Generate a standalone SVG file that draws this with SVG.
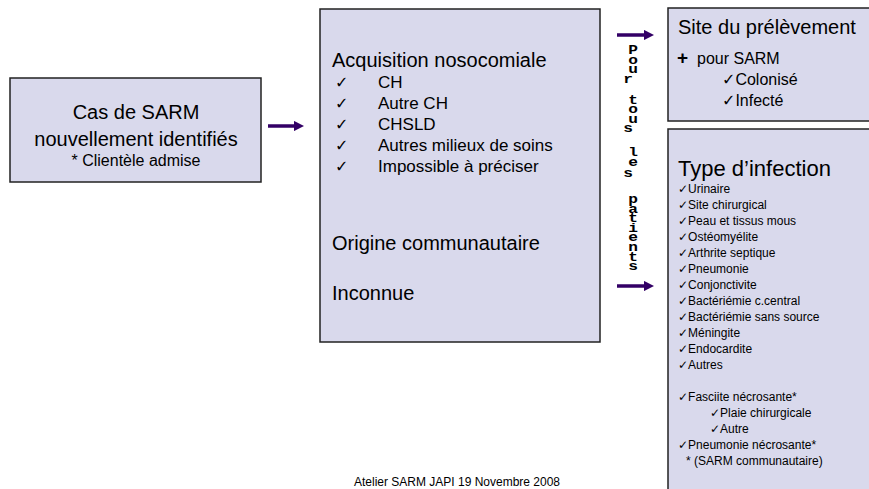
<svg xmlns="http://www.w3.org/2000/svg" width="869" height="489" viewBox="0 0 869 489">
  <style>
    .box { fill: #d9d9ec; stroke: #222; stroke-width: 1.5; }
    .t { font-family: "Liberation Sans", "DejaVu Sans", sans-serif; fill: #000; }
    .vert { font-family: "Liberation Mono", "DejaVu Sans Mono", monospace; font-weight: bold; font-size: 13.5px; text-anchor: middle; }
    .conn { stroke: #330066; stroke-width: 3.5; fill: none; marker-end: url(#head); }
  </style>
  <defs>
    <marker id="head" viewBox="0 0 10 10" refX="6" refY="5" markerWidth="3" markerHeight="3" orient="auto">
      <path d="M0,0 L10,5 L0,10 z" fill="#330066"/>
    </marker>
  </defs>
  <rect width="869" height="489" fill="#fff"/>

  <!-- Newly identified cases -->
  <g id="cas">
    <rect class="box" x="10" y="78" width="251" height="104"/>
    <text class="t" x="136" y="119" font-size="20" text-anchor="middle">Cas de SARM</text>
    <text class="t" x="136" y="146" font-size="20" text-anchor="middle">nouvellement identifiés</text>
    <text class="t" x="136" y="166" font-size="16" text-anchor="middle">* Clientèle admise</text>
  </g>

  <!-- Acquisition origin -->
  <g id="acquisition">
    <rect class="box" x="320" y="9" width="280" height="333"/>
    <text class="t" x="332" y="67" font-size="20">Acquisition nosocomiale</text>
    <g font-size="16">
      <text class="t" x="335" y="88">✓</text><text class="t" x="378" y="88" font-size="17">CH</text>
      <text class="t" x="335" y="109">✓</text><text class="t" x="378" y="109" font-size="17">Autre CH</text>
      <text class="t" x="335" y="130">✓</text><text class="t" x="378" y="130" font-size="17">CHSLD</text>
      <text class="t" x="335" y="151">✓</text><text class="t" x="378" y="151" font-size="17">Autres milieux de soins</text>
      <text class="t" x="335" y="172">✓</text><text class="t" x="378" y="172" font-size="17">Impossible à préciser</text>
    </g>
    <text class="t" x="332" y="250" font-size="20">Origine communautaire</text>
    <text class="t" x="332" y="300" font-size="20">Inconnue</text>
  </g>

  <!-- Sampling site -->
  <g id="site">
    <rect class="box" x="668" y="8" width="210" height="113"/>
    <text class="t" x="678" y="34" font-size="20">Site du prélèvement</text>
    <text class="t" x="677" y="64" font-size="19" font-weight="bold">+</text>
    <text class="t" x="697" y="64" font-size="16">pour SARM</text>
    <text class="t" x="722" y="85" font-size="16">✓Colonisé</text>
    <text class="t" x="722" y="106" font-size="16">✓Infecté</text>
  </g>

  <!-- Infection type -->
  <g id="infection">
    <rect class="box" x="668" y="129" width="210" height="370"/>
    <text class="t" x="678" y="176" font-size="22">Type d’infection</text>
    <g font-size="12">
      <text class="t" x="678" y="193">✓Urinaire</text>
      <text class="t" x="678" y="209">✓Site chirurgical</text>
      <text class="t" x="678" y="225">✓Peau et tissus mous</text>
      <text class="t" x="678" y="241">✓Ostéomyélite</text>
      <text class="t" x="678" y="257">✓Arthrite septique</text>
      <text class="t" x="678" y="273">✓Pneumonie</text>
      <text class="t" x="678" y="289">✓Conjonctivite</text>
      <text class="t" x="678" y="305">✓Bactériémie c.central</text>
      <text class="t" x="678" y="321">✓Bactériémie sans source</text>
      <text class="t" x="678" y="337">✓Méningite</text>
      <text class="t" x="678" y="353">✓Endocardite</text>
      <text class="t" x="678" y="369">✓Autres</text>
      <text class="t" x="678" y="401">✓Fasciite nécrosante*</text>
      <text class="t" x="710" y="417">✓Plaie chirurgicale</text>
      <text class="t" x="710" y="433">✓Autre</text>
      <text class="t" x="678" y="449">✓Pneumonie nécrosante*</text>
      <text class="t" x="686" y="465">* (SARM communautaire)</text>
    </g>
  </g>

  <!-- Stacked vertical label, one glyph per line -->
  <g id="label-patients" transform="translate(633,0) scale(1.2,1)">
    <text class="vert"><tspan x="0 0 0 0" y="54 63.6 73.2 82.8">Pour</tspan> <tspan x="0 0 0 0" y="104 113.5 123 132.5">tous</tspan> <tspan x="0 0 0" y="156 166.5 177">les</tspan> <tspan x="0 0 0 0 0 0 0 0" y="203 212.6 222.2 231.8 241.4 251 260.6 270.2">patients</tspan></text>
  </g>

  <!-- Connectors -->
  <g id="connectors">
    <line class="conn" x1="268" y1="126" x2="300" y2="126"/>
    <line class="conn" x1="617" y1="35" x2="650" y2="35"/>
    <line class="conn" x1="617" y1="286" x2="650" y2="286"/>
  </g>

  <text class="t" x="457" y="486" font-size="12" text-anchor="middle">Atelier SARM JAPI 19 Novembre 2008</text>
</svg>
